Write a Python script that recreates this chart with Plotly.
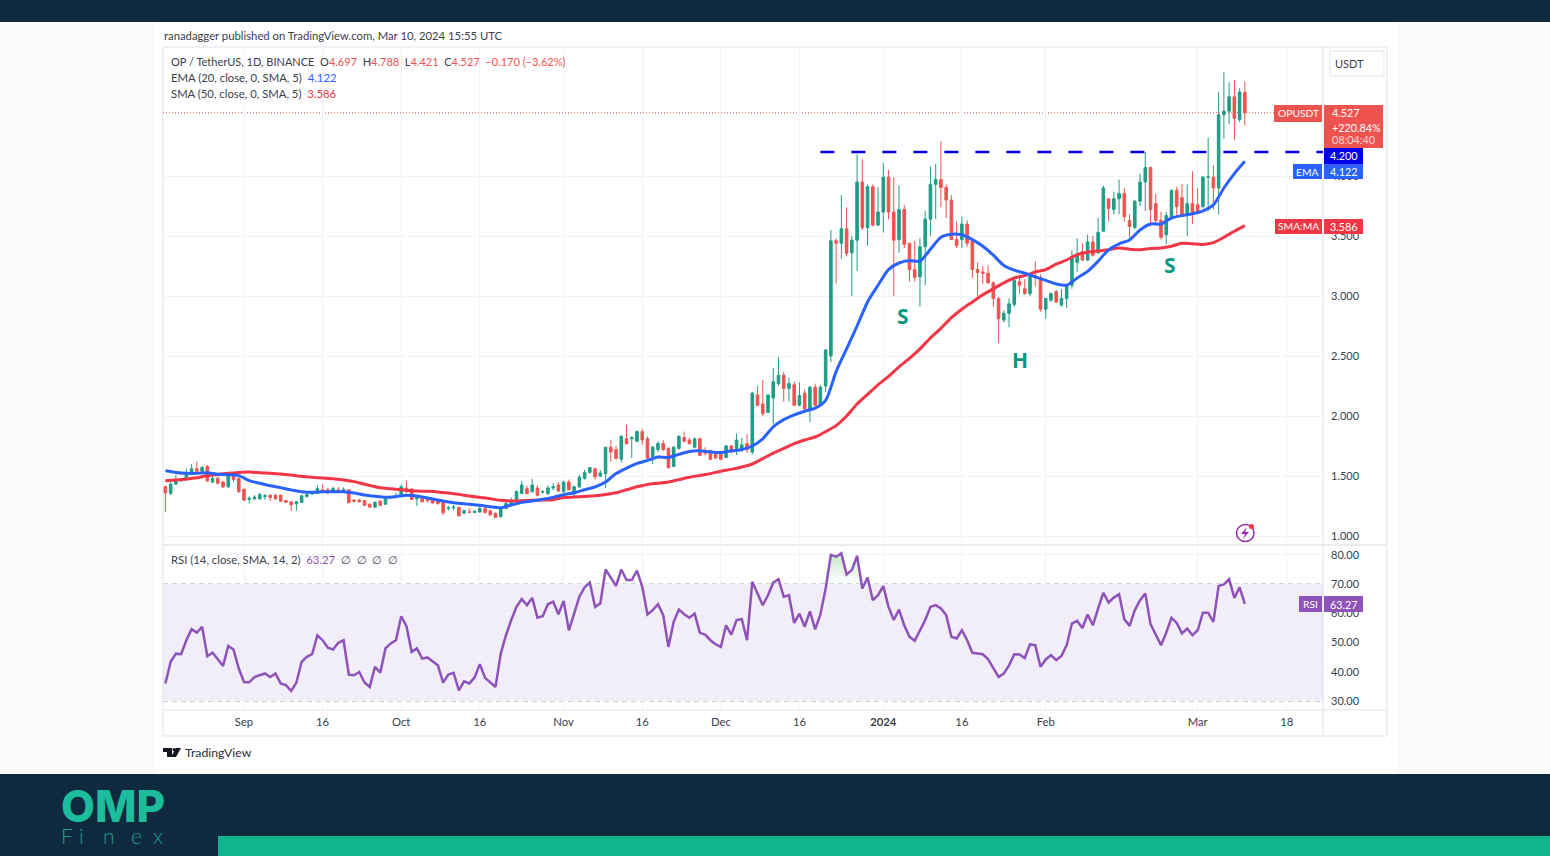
import pandas as pd
import numpy as np
import plotly.graph_objects as go

W, H = 1550, 856
FONT = "Lato"

first_day = "2023-08-17"
axis_start = "2023-08-16 13:00"
axis_end = "2024-03-24 22:00"

opens = [
    1.41, 1.355, 1.433, 1.46, 1.47, 1.52, 1.56, 1.54, 1.58, 1.45,
    1.48, 1.45, 1.41, 1.50, 1.48, 1.39, 1.305, 1.31, 1.31, 1.33,
    1.34, 1.34, 1.34, 1.295, 1.285, 1.27, 1.28, 1.33, 1.35, 1.355,
    1.385, 1.385, 1.37, 1.385, 1.375, 1.385, 1.30, 1.30, 1.295, 1.265,
    1.24, 1.29, 1.265, 1.32, 1.33, 1.34, 1.40, 1.39, 1.31, 1.32,
    1.305, 1.30, 1.295, 1.28, 1.23, 1.235, 1.24, 1.19, 1.20, 1.195,
    1.20, 1.23, 1.21, 1.19, 1.16, 1.23, 1.26, 1.29, 1.355, 1.395,
    1.37, 1.40, 1.365, 1.355, 1.40, 1.425, 1.37, 1.45, 1.35, 1.41,
    1.48, 1.53, 1.56, 1.50, 1.52, 1.74, 1.72, 1.64, 1.81, 1.81,
    1.79, 1.87, 1.81, 1.66, 1.72, 1.77, 1.73, 1.58, 1.73, 1.82,
    1.80, 1.74, 1.81, 1.71, 1.71, 1.69, 1.69, 1.655, 1.75, 1.73,
    1.72, 1.77, 1.70, 2.175, 2.10, 2.03, 2.15, 2.27, 2.34, 2.23,
    2.26, 2.09, 2.19, 2.06, 2.24, 2.09, 2.25, 2.50, 3.46, 3.44,
    3.56, 3.36, 3.465, 3.95, 3.57, 3.91, 3.59, 3.70, 3.99, 3.70,
    3.47, 3.72, 3.44, 3.22, 3.16, 3.41, 3.64, 3.93, 3.97, 3.905,
    3.80, 3.47, 3.47, 3.60, 3.46, 3.22, 3.20, 3.19, 3.11, 2.98,
    2.80, 2.855, 2.93, 3.12, 3.06, 3.02, 3.17, 3.155, 2.89, 2.966,
    3.036, 2.925, 2.98, 3.09, 3.28, 3.37, 3.30, 3.45, 3.36, 3.54,
    3.81, 3.72, 3.81, 3.855, 3.63, 3.57, 3.79, 3.95, 4.07, 3.77,
    3.63, 3.51, 3.66, 3.88, 3.82, 3.69, 3.77, 3.76, 3.745, 3.99,
    3.99, 3.90, 4.51, 4.54, 4.66, 4.47, 4.697,
]
highs = [
    1.42, 1.45, 1.51, 1.48, 1.56, 1.60, 1.62, 1.585, 1.59, 1.50,
    1.50, 1.46, 1.52, 1.52, 1.49, 1.395, 1.33, 1.34, 1.36, 1.35,
    1.35, 1.35, 1.345, 1.30, 1.29, 1.29, 1.34, 1.355, 1.37, 1.425,
    1.43, 1.40, 1.41, 1.41, 1.405, 1.39, 1.305, 1.31, 1.30, 1.27,
    1.29, 1.30, 1.33, 1.335, 1.36, 1.43, 1.465, 1.40, 1.33, 1.33,
    1.315, 1.31, 1.30, 1.29, 1.25, 1.26, 1.245, 1.22, 1.23, 1.215,
    1.25, 1.24, 1.215, 1.195, 1.24, 1.295, 1.32, 1.38, 1.46, 1.42,
    1.475, 1.42, 1.385, 1.42, 1.44, 1.45, 1.46, 1.47, 1.42, 1.51,
    1.55, 1.575, 1.57, 1.55, 1.74, 1.80, 1.75, 1.84, 1.925, 1.83,
    1.88, 1.89, 1.83, 1.75, 1.79, 1.80, 1.74, 1.75, 1.84, 1.87,
    1.82, 1.82, 1.82, 1.74, 1.72, 1.70, 1.70, 1.76, 1.76, 1.855,
    1.82, 1.85, 2.20, 2.25, 2.30, 2.18, 2.40, 2.49, 2.37, 2.32,
    2.29, 2.28, 2.22, 2.25, 2.27, 2.26, 2.56, 3.55, 3.48, 3.84,
    3.74, 3.50, 4.18, 4.14, 3.93, 3.93, 3.91, 4.11, 4.05, 3.99,
    3.92, 3.76, 3.44, 3.46, 3.48, 3.71, 4.08, 4.10, 4.29, 3.93,
    3.84, 3.62, 3.66, 3.63, 3.46, 3.28, 3.25, 3.255, 3.12, 2.99,
    2.88, 2.98, 3.14, 3.15, 3.14, 3.17, 3.29, 3.18, 2.98, 3.03,
    3.05, 3.06, 3.095, 3.38, 3.48, 3.44, 3.51, 3.50, 3.65, 3.92,
    3.81, 3.87, 3.97, 3.90, 3.68, 3.80, 4.02, 4.20, 4.08, 3.85,
    3.70, 3.70, 3.89, 3.91, 3.93, 3.93, 4.04, 3.90, 4.00, 4.32,
    4.09, 4.70, 4.865, 4.78, 4.80, 4.73, 4.788,
]
lows = [
    1.20, 1.34, 1.425, 1.45, 1.46, 1.51, 1.52, 1.53, 1.45, 1.44,
    1.43, 1.40, 1.40, 1.45, 1.36, 1.29, 1.27, 1.30, 1.30, 1.30,
    1.29, 1.30, 1.285, 1.275, 1.205, 1.21, 1.275, 1.32, 1.345, 1.35,
    1.36, 1.35, 1.36, 1.36, 1.36, 1.27, 1.28, 1.28, 1.25, 1.235,
    1.235, 1.25, 1.26, 1.31, 1.325, 1.335, 1.36, 1.30, 1.25, 1.28,
    1.28, 1.27, 1.26, 1.175, 1.21, 1.215, 1.16, 1.185, 1.19, 1.19,
    1.195, 1.19, 1.17, 1.15, 1.155, 1.225, 1.25, 1.28, 1.35, 1.345,
    1.36, 1.33, 1.355, 1.34, 1.38, 1.37, 1.36, 1.38, 1.33, 1.40,
    1.47, 1.52, 1.47, 1.49, 1.40, 1.62, 1.64, 1.61, 1.76, 1.65,
    1.78, 1.76, 1.64, 1.60, 1.70, 1.71, 1.56, 1.58, 1.72, 1.78,
    1.76, 1.73, 1.67, 1.67, 1.63, 1.64, 1.63, 1.65, 1.69, 1.675,
    1.70, 1.69, 1.68, 2.08, 2.00, 2.03, 1.93, 2.25, 2.12, 2.12,
    2.08, 2.08, 2.05, 1.95, 2.08, 2.08, 2.20, 2.45, 3.105, 3.31,
    3.33, 3.00, 3.21, 3.55, 3.42, 3.58, 3.59, 3.53, 3.64, 3.00,
    3.36, 3.40, 3.12, 3.12, 2.91, 3.09, 3.50, 3.64, 3.74, 3.65,
    3.47, 3.40, 3.40, 3.41, 3.15, 3.00, 3.10, 3.10, 2.91, 2.61,
    2.78, 2.74, 2.91, 3.02, 3.01, 3.00, 3.08, 2.87, 2.81, 2.95,
    2.94, 2.91, 2.90, 3.06, 3.20, 3.29, 3.29, 3.33, 3.35, 3.54,
    3.62, 3.68, 3.68, 3.62, 3.48, 3.56, 3.75, 3.71, 3.58, 3.60,
    3.47, 3.43, 3.64, 3.66, 3.66, 3.50, 3.60, 3.68, 3.73, 3.71,
    3.72, 3.68, 4.31, 4.43, 4.30, 4.45, 4.421,
]
closes = [
    1.36, 1.433, 1.47, 1.47, 1.52, 1.56, 1.54, 1.57, 1.46, 1.48,
    1.44, 1.41, 1.51, 1.47, 1.37, 1.30, 1.315, 1.325, 1.345, 1.335,
    1.32, 1.31, 1.29, 1.28, 1.26, 1.285, 1.335, 1.345, 1.36, 1.395,
    1.37, 1.36, 1.395, 1.375, 1.385, 1.28, 1.29, 1.285, 1.255, 1.24,
    1.28, 1.255, 1.32, 1.325, 1.335, 1.41, 1.37, 1.305, 1.32, 1.285,
    1.295, 1.275, 1.27, 1.195, 1.235, 1.24, 1.17, 1.21, 1.198, 1.205,
    1.23, 1.195, 1.175, 1.155, 1.23, 1.27, 1.30, 1.37, 1.425, 1.355,
    1.425, 1.34, 1.37, 1.40, 1.41, 1.375, 1.45, 1.385, 1.41, 1.49,
    1.53, 1.57, 1.495, 1.525, 1.74, 1.70, 1.645, 1.83, 1.77, 1.82,
    1.87, 1.80, 1.65, 1.74, 1.77, 1.72, 1.57, 1.74, 1.83, 1.79,
    1.77, 1.81, 1.67, 1.69, 1.64, 1.65, 1.64, 1.75, 1.70, 1.80,
    1.76, 1.72, 2.19, 2.09, 2.02, 2.175, 2.285, 2.34, 2.23, 2.27,
    2.09, 2.17, 2.06, 2.24, 2.09, 2.24, 2.55, 3.46, 3.44, 3.56,
    3.355, 3.466, 3.95, 3.57, 3.91, 3.59, 3.70, 3.99, 3.70, 3.465,
    3.72, 3.43, 3.22, 3.155, 3.41, 3.64, 3.93, 3.97, 3.905, 3.80,
    3.47, 3.42, 3.60, 3.44, 3.22, 3.195, 3.19, 3.11, 2.98, 2.81,
    2.855, 2.935, 3.13, 3.09, 3.02, 3.16, 3.16, 2.89, 2.98, 3.02,
    2.95, 2.98, 3.09, 3.33, 3.35, 3.30, 3.45, 3.34, 3.53, 3.90,
    3.73, 3.81, 3.855, 3.66, 3.58, 3.79, 3.95, 4.07, 3.72, 3.63,
    3.49, 3.67, 3.88, 3.745, 3.675, 3.77, 3.69, 3.69, 3.99, 3.992,
    3.90, 4.51, 4.54, 4.66, 4.48, 4.70, 4.527,
]

# read every second day, the lines are smooth enough for that
ema = [
    1.544, 1.53, 1.522, 1.522, 1.528, 1.514, 1.511, 1.503, 1.461, 1.439,
    1.419, 1.403, 1.383, 1.369, 1.364, 1.369, 1.369, 1.369, 1.358, 1.342,
    1.331, 1.322, 1.328, 1.339, 1.333, 1.317, 1.30, 1.283, 1.272, 1.264,
    1.256, 1.244, 1.236, 1.258, 1.28, 1.292, 1.306, 1.322, 1.345, 1.36,
    1.385, 1.41, 1.45, 1.52, 1.565, 1.605, 1.63, 1.658, 1.655, 1.68,
    1.705, 1.71, 1.70, 1.695, 1.71, 1.72, 1.75, 1.81, 1.91, 1.97,
    2.01, 2.04, 2.065, 2.13, 2.37, 2.56, 2.75, 2.95, 3.09, 3.22,
    3.275, 3.295, 3.29, 3.39, 3.49, 3.515, 3.51, 3.47, 3.415, 3.34,
    3.255, 3.215, 3.19, 3.16, 3.13, 3.10, 3.09, 3.15, 3.205, 3.29,
    3.385, 3.435, 3.467, 3.55, 3.60, 3.60, 3.65, 3.67, 3.685, 3.71,
    3.76, 3.90, 4.02, 4.122,
]
sma = [
    1.461, 1.467, 1.475, 1.486, 1.503, 1.514, 1.522, 1.53, 1.533, 1.528,
    1.522, 1.517, 1.508, 1.497, 1.489, 1.483, 1.478, 1.467, 1.453, 1.431,
    1.411, 1.397, 1.389, 1.381, 1.375, 1.372, 1.367, 1.358, 1.347, 1.333,
    1.322, 1.311, 1.297, 1.292, 1.294, 1.297, 1.30, 1.303, 1.32, 1.325,
    1.33, 1.335, 1.345, 1.36, 1.385, 1.41, 1.43, 1.44, 1.45, 1.47,
    1.49, 1.505, 1.52, 1.54, 1.555, 1.575, 1.60, 1.645, 1.69, 1.73,
    1.77, 1.80, 1.825, 1.87, 1.92, 2.00, 2.10, 2.18, 2.26, 2.33,
    2.41, 2.48, 2.56, 2.65, 2.73, 2.82, 2.89, 2.95, 3.01, 3.06,
    3.11, 3.15, 3.17, 3.20, 3.22, 3.265, 3.30, 3.345, 3.365, 3.375,
    3.385, 3.40, 3.39, 3.385, 3.395, 3.40, 3.415, 3.44, 3.435, 3.43,
    3.445, 3.49, 3.54, 3.586,
]
rsi = [
    36.0, 43.4, 46.2, 46.0, 50.8, 54.6, 53.4, 55.4, 45.3, 46.5,
    44.3, 42.0, 48.8, 47.6, 41.1, 36.5, 36.4, 38.2, 38.8, 39.4,
    38.2, 39.4, 36.0, 35.4, 33.4, 36.3, 43.4, 45.1, 46.0, 52.5,
    50.8, 48.2, 47.6, 49.9, 50.8, 39.0, 38.8, 39.9, 36.3, 34.8,
    41.7, 39.7, 48.0, 49.7, 50.8, 59.0, 55.6, 46.8, 48.0, 44.5,
    44.9, 43.6, 42.2, 36.3, 39.0, 39.6, 33.6, 36.7, 36.0, 38.0,
    42.6, 37.9, 36.5, 34.8, 46.2, 52.5, 57.7, 62.2, 64.9, 62.8,
    65.3, 58.5, 59.0, 63.1, 64.0, 59.7, 64.2, 54.2, 59.9, 65.7,
    68.9, 70.5, 62.2, 63.4, 75.0, 72.2, 69.4, 75.0, 71.4, 71.4,
    74.6, 69.1, 59.6, 61.1, 63.1, 59.4, 48.5, 57.1, 61.3, 59.7,
    58.5, 59.9, 53.3, 52.7, 50.8, 49.4, 48.5, 55.9, 52.7, 57.7,
    58.0, 50.8, 70.8, 66.8, 62.8, 66.2, 70.5, 71.7, 65.7, 66.2,
    56.7, 59.9, 55.4, 60.7, 54.5, 59.6, 68.5, 80.0, 79.4, 80.6,
    73.3, 74.8, 79.7, 68.5, 72.3, 64.5, 66.2, 69.3, 62.2, 57.7,
    61.3, 55.9, 52.0, 50.6, 53.9, 57.7, 62.2, 62.8, 61.7, 59.4,
    52.0, 51.4, 54.2, 50.8, 46.5, 46.2, 46.0, 44.3, 41.1, 38.2,
    39.4, 42.2, 46.0, 45.9, 44.7, 49.4, 49.1, 41.7, 44.2, 45.7,
    44.0, 45.4, 49.1, 56.5, 57.4, 55.0, 59.6, 55.9, 61.7, 67.0,
    63.7, 65.4, 66.5, 58.0, 55.7, 61.1, 64.5, 66.8, 56.3, 52.5,
    49.1, 53.4, 58.5, 56.7, 53.1, 54.8, 52.5, 54.2, 60.2, 60.2,
    57.1, 69.4, 69.9, 71.7, 65.3, 68.9, 63.27,
]

x_tick_dates = ["2023-09-01", "2023-09-16", "2023-10-01", "2023-10-16", "2023-11-01", "2023-11-16", "2023-12-01",
                "2023-12-16", "2024-01-01", "2024-01-16", "2024-02-01", "2024-03-01", "2024-03-18"]
x_tick_labels = ["Sep", "16", "Oct", "16", "Nov", "16", "Dec", "16", "<b>2024</b>", "16", "Feb", "Mar", "18"]
price_ticks = [1.0, 1.5, 2.0, 2.5, 3.0, 3.5, 4.0]
rsi_ticks = [30, 40, 50, 60, 70, 80]

dates = pd.date_range(first_day, periods=len(closes))
even_dates = dates[::2]

NAVY = "#0f2a3f"
TEAL = "#11b48c"
GRID = "#f0f3fa"
EDGE = "#e0e3eb"
INK = "#3a3e4a"
UP = "#1f9d87"
DOWN = "#ef5350"
EMA_BLUE = "#2962ff"
SMA_RED = "#f23645"
RSI_PURPLE = "#8e52b8"


def fx(px):
    return px / W


def fy(px):
    return 1 - px / H


fig = go.Figure()

# green patch above the 70 line around the new year top
hot = slice(126, 135)
fig.add_trace(go.Scatter(x=dates[hot], y=[70] * 9, mode="lines", line=dict(width=0), xaxis="x2", yaxis="y2"))
fig.add_trace(go.Scatter(x=dates[hot], y=np.maximum(rsi[hot], 70), mode="lines", line=dict(width=0), fill="tonexty",
                         fillgradient=dict(type="vertical", colorscale=[[0, "rgba(76,175,80,0)"], [1, "rgba(76,175,80,0.3)"]]),
                         xaxis="x2", yaxis="y2"))

fig.add_trace(go.Candlestick(x=dates, open=opens, high=highs, low=lows, close=closes,
                             increasing=dict(line=dict(color=UP, width=1), fillcolor=UP),
                             decreasing=dict(line=dict(color=DOWN, width=1), fillcolor=DOWN),
                             whiskerwidth=0, xaxis="x", yaxis="y"))
fig.add_trace(go.Scatter(x=even_dates, y=sma, mode="lines", line=dict(color=SMA_RED, width=3, shape="spline", smoothing=0.7),
                         xaxis="x", yaxis="y"))
fig.add_trace(go.Scatter(x=even_dates, y=ema, mode="lines", line=dict(color=EMA_BLUE, width=3, shape="spline", smoothing=0.7),
                         xaxis="x", yaxis="y"))
fig.add_trace(go.Scatter(x=dates, y=rsi, mode="lines", line=dict(color=RSI_PURPLE, width=2.5), xaxis="x2", yaxis="y2"))

axis_font = dict(family=FONT, size=11, color=INK)
fig.update_layout(
    width=W, height=H, margin=dict(l=0, r=0, t=0, b=0), showlegend=False,
    paper_bgcolor="#fafafb", plot_bgcolor="rgba(0,0,0,0)",
    xaxis=dict(domain=[fx(163), fx(1323)], range=[axis_start, axis_end], anchor="y", rangeslider=dict(visible=False),
               tickvals=x_tick_dates, ticktext=[""] * len(x_tick_dates), ticks="", showgrid=True, gridcolor=GRID,
               gridwidth=1, zeroline=False),
    xaxis2=dict(domain=[fx(163), fx(1323)], range=[axis_start, axis_end], anchor="y2", tickvals=x_tick_dates,
                ticktext=x_tick_labels, ticks="", ticklabelstandoff=4, tickfont=dict(family=FONT, size=11.3, color=INK),
                showgrid=True, gridcolor=GRID, gridwidth=1, zeroline=False),
    yaxis=dict(domain=[fy(545), fy(47)], range=[0.925, 5.075], anchor="x", side="right", tickvals=price_ticks,
               tickformat=".3f", ticks="", ticklabelstandoff=7, tickfont=axis_font, showgrid=True, gridcolor=GRID,
               gridwidth=1, zeroline=False),
    yaxis2=dict(domain=[fy(710), fy(545)], range=[26.9, 83.4], anchor="x2", side="right", tickvals=rsi_ticks,
                tickformat=".2f", ticks="", ticklabelstandoff=7, tickfont=axis_font, showgrid=True, gridcolor=GRID,
                gridwidth=1, zeroline=False),
)


def px_rect(x0, y0, x1, y1, fill, layer="below", line=None):
    fig.add_shape(type="rect", xref="paper", yref="paper", x0=fx(x0), x1=fx(x1), y0=fy(y0), y1=fy(y1),
                  fillcolor=fill, line=line or dict(width=0), layer=layer)


def px_line(x0, y0, x1, y1, color=EDGE):
    fig.add_shape(type="line", xref="paper", yref="paper", x0=fx(x0), x1=fx(x1), y0=fy(y0), y1=fy(y1),
                  line=dict(color=color, width=1), layer="below")


def px_path(points, fill):
    d = "M" + " L".join(f"{fx(a):.5f},{fy(b):.5f}" for a, b in points) + " Z"
    fig.add_shape(type="path", xref="paper", yref="paper", path=d, fillcolor=fill, line=dict(width=0), layer="above")


def px_text(x, y, text, size=11.3, color=INK, anchor="left", family=FONT, weight="normal"):
    fig.add_annotation(xref="paper", yref="paper", x=fx(x), y=fy(y), text=text, showarrow=False, xanchor=anchor,
                       yanchor="middle", borderpad=0, font=dict(family=family, size=size, color=color, weight=weight))


def tag(x0, y0, x1, y1, text, bg, color="white", size=10.8):
    px_rect(x0, y0, x1, y1, bg, layer="above")
    px_text((x0 + x1) / 2, (y0 + y1) / 2, text, size=size, color=color, anchor="center")


# page bands and card
px_rect(155, 22, 1397, 774, "white")
px_rect(0, 0, W, 22, NAVY)
px_rect(0, 774, W, H, NAVY)
px_rect(218, 836, W, H, TEAL)

# chart frame
px_rect(163, 47, 1387, 736, "rgba(0,0,0,0)", line=dict(color=EDGE, width=1))
px_line(163, 545, 1387, 545, "#d6d9e2")
px_line(163, 710, 1387, 710)
px_line(1323, 47, 1323, 736)

# rsi band and levels
fig.add_shape(type="rect", xref="paper", yref="y2", x0=fx(163), x1=fx(1323), y0=30, y1=70,
              fillcolor="rgba(126,87,194,0.1)", line=dict(width=0), layer="below")
for level in [30, 50, 70]:
    fig.add_shape(type="line", xref="paper", yref="y2", x0=fx(163), x1=fx(1323), y0=level, y1=level,
                  line=dict(color="#8a8d98", width=1, dash="5px,4px"), layer="below")

# last price and resistance
fig.add_shape(type="line", xref="paper", yref="y", x0=fx(163), x1=fx(1274), y0=4.527, y1=4.527,
              line=dict(color=DOWN, width=1, dash="1px,2px"), layer="below")
fig.add_shape(type="line", xref="x", yref="y", x0="2023-12-20", x1=axis_end, y0=4.2, y1=4.2,
              line=dict(color="#0000dc", width=2.5, dash="14px,17px"), layer="above")

# header and legends
px_text(163, 36, "ranadagger published on TradingView.com, Mar 10, 2024 15:55 UTC")
r = f'<span style="color:{DOWN}">'
px_text(170, 61, f"OP / TetherUS, 1D, BINANCE\u00a0\u00a0O{r}4.697</span>\u00a0\u00a0H{r}4.788</span>\u00a0\u00a0"
                 f"L{r}4.421</span>\u00a0\u00a0C{r}4.527</span>\u00a0\u00a0{r}\u22120.170 (\u22123.62%)</span>", size=11)
px_text(170, 77, f'EMA (20, close, 0, SMA, 5)\u00a0\u00a0<span style="color:{EMA_BLUE}">4.122</span>')
px_text(170, 93, f'SMA (50, close, 0, SMA, 5)\u00a0\u00a0<span style="color:{SMA_RED}">3.586</span>')
px_text(170, 559, f'RSI (14, close, SMA, 14, 2)\u00a0\u00a0<span style="color:{RSI_PURPLE}">63.27</span>'
                  "\u00a0\u00a0\u2205\u00a0\u00a0\u2205\u00a0\u00a0\u2205\u00a0\u00a0\u2205")

# price scale tags
px_rect(1330, 51, 1384, 76, "white", layer="above", line=dict(color=EDGE, width=1))
px_text(1349, 63, "USDT", size=11, anchor="center")
tag(1274, 105, 1322, 122, "OPUSDT", DOWN, size=10.3)
px_rect(1324, 105, 1383, 148, DOWN, layer="above")
px_text(1331, 113, "4.527", size=10.8, color="white")
px_text(1331, 127, "+220.84%", size=10.8, color="white")
px_text(1331, 140, "08:04:40", size=10.8, color="#fbd6d5")
tag(1324, 148, 1363, 164, "4.200", "#0000e6")
tag(1293, 164, 1322, 179, "EMA", EMA_BLUE, size=10.3)
tag(1324, 164, 1363, 179, "4.122", EMA_BLUE)
tag(1275, 219, 1322, 234, "SMA:MA", SMA_RED, size=10.3)
tag(1324, 219, 1363, 234, "3.586", SMA_RED)
tag(1299, 596, 1322, 612, "RSI", RSI_PURPLE, size=10.3)
tag(1324, 596, 1363, 612, "63.27", RSI_PURPLE)

# hand drawn pattern letters
for lx, ly, letter in [(903, 316, "S"), (1020, 360, "H"), (1170, 265, "S")]:
    px_text(lx, ly, f"<b>{letter}</b>", size=21, color="#089981", anchor="center", family="Noto Sans")

# lightning badge
fig.add_shape(type="circle", xref="paper", yref="paper", x0=fx(1236.5), x1=fx(1254), y0=fy(524.5), y1=fy(541.5),
              line=dict(color="#9c27b0", width=1.5), fillcolor="white", layer="above")
px_path([(1247, 527), (1241, 534), (1245, 534), (1243, 539), (1249, 532), (1245, 532)], "#9c27b0")
fig.add_shape(type="circle", xref="paper", yref="paper", x0=fx(1249), x1=fx(1254), y0=fy(524), y1=fy(529),
              line=dict(width=0), fillcolor="#f23645", layer="above")

# tradingview mark
px_path([(163, 748), (172, 748), (172, 757), (167, 757), (167, 752), (163, 752)], "#131722")
px_path([(176, 748), (181, 748), (176, 757), (171, 757)], "#131722")
fig.add_shape(type="circle", xref="paper", yref="paper", x0=fx(172.5), x1=fx(176), y0=fy(748), y1=fy(751.5),
              line=dict(width=0), fillcolor="#131722", layer="above")
px_text(184, 752, "TradingView", size=12.3, color="#2a2e39")

# omp finex logo
px_text(60, 806, "OMP", size=44, color="#1cbc9c", family="Inter", weight=800)
for lx, letter in [(67, "F"), (81, "i"), (109, "n"), (136, "e"), (158, "x")]:
    px_text(lx, 835, letter, size=21, color="#1f9e8c", anchor="center", family="Lato", weight=300)

fig.write_html("out.html", config=dict(displayModeBar=False), post_script="document.body.style.margin='0';")
